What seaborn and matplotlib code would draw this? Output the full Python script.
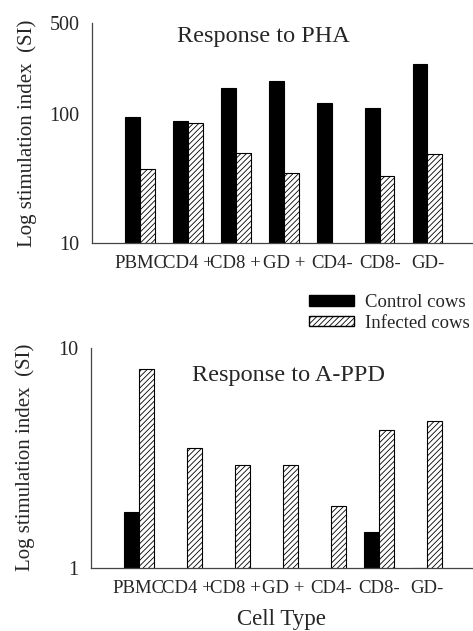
#!/usr/bin/env python3
# Two stacked log-scale bar charts: PHA and A-PPD response, control vs infected cows.

import numpy as np
import pandas as pd
import seaborn as sns
import matplotlib.pyplot as plt
from matplotlib.patches import Patch

CELL_TYPES   = ["PBMC", "CD4+", "CD8+", "GD+", "CD4-", "CD8-", "GD-"]
TICK_LABELS  = ["PBMC", "CD4 +", "CD8 +", "GD +", "CD4-", "CD8-", "GD-"]
GROUPS       = ["Control cows", "Infected cows"]

PHA_CONTROL  = [93.6, 87.3, 159, 179, 120, 110, 244]
PHA_INFECTED = [37.3, 84.8, 49.5, 34.5, np.nan, 32.8, 48.6]

PPD_CONTROL  = [1.80, np.nan, np.nan, np.nan, np.nan, 1.46, 1.0]
PPD_INFECTED = [8.0, 3.51, 2.92, 2.92, 1.91, 4.23, 4.63]

SERIF = ["Liberation Serif", "DejaVu Serif"]


def make_frame(control, infected):
    rows = []
    for cell, c, i in zip(CELL_TYPES, control, infected):
        rows.append({"cell": cell, "group": GROUPS[0], "si": c})
        rows.append({"cell": cell, "group": GROUPS[1], "si": i})
    return pd.DataFrame(rows)


def plot_panel(ax, df, ylim, yticks, title, title_xy):
    ax.set_yscale("log")
    sns.barplot(data=df, x="cell", y="si", hue="group",
                order=CELL_TYPES, hue_order=GROUPS,
                palette=["black", "white"], width=0.62,
                errorbar=None, edgecolor="black", linewidth=0.8,
                legend=False, ax=ax)
    for bar in ax.containers[1]:
        bar.set_hatch("//////")
    ax.set_ylim(*ylim)
    ax.set_xlim(-1, 6.95)
    ax.set_yticks(yticks)
    ax.set_yticklabels([str(t) for t in yticks], fontsize=14.5, family=SERIF)
    ax.yaxis.set_minor_locator(plt.NullLocator())
    ax.set_xticks(range(len(CELL_TYPES)))
    ax.set_xticklabels(TICK_LABELS, fontsize=13.5, family=SERIF)
    ax.tick_params(axis="both", length=3, width=0.8, color="#444444", pad=6)
    ax.set_xlabel("")
    ax.set_ylabel("Log stimulation index  (SI)", fontsize=15, family=SERIF)
    ax.yaxis.set_label_coords(-0.145, 0.5)
    for side in ("top", "right"):
        ax.spines[side].set_visible(False)
    for side in ("left", "bottom"):
        ax.spines[side].set_color("#444444")
        ax.spines[side].set_linewidth(0.9)
    ax.text(*title_xy, title, transform=ax.transAxes, ha="center", va="center",
            fontsize=17.5, family=SERIF)


def main():
    sns.set_theme(style="white")
    plt.rcParams["hatch.linewidth"] = 0.6
    plt.rcParams["font.family"] = SERIF

    fig = plt.figure(figsize=(4.73, 6.31), dpi=100)
    ax_top = fig.add_axes([0.195, 0.615, 0.805, 0.348])
    ax_bot = fig.add_axes([0.192, 0.100, 0.808, 0.349])

    plot_panel(ax_top, make_frame(PHA_CONTROL, PHA_INFECTED),
               (10, 500), [10, 100, 500], "Response to PHA", (0.449, 0.94))
    plot_panel(ax_bot, make_frame(PPD_CONTROL, PPD_INFECTED),
               (1, 10), [1, 10], "Response to A-PPD", (0.518, 0.875))
    ax_bot.set_xlabel("Cell Type", fontsize=16.5, family=SERIF, labelpad=8)

    handles = [Patch(facecolor="black", edgecolor="black"),
               Patch(facecolor="white", edgecolor="black", hatch="//////")]
    fig.legend(handles, GROUPS, loc="upper right", bbox_to_anchor=(1.014, 0.549),
               frameon=False, prop={"family": SERIF, "size": 13.5},
               handlelength=2.4, handleheight=0.5, handletextpad=0.6,
               labelspacing=0.2, borderpad=0.0)

    fig.savefig("out.png", dpi=100)


if __name__ == "__main__":
    main()
